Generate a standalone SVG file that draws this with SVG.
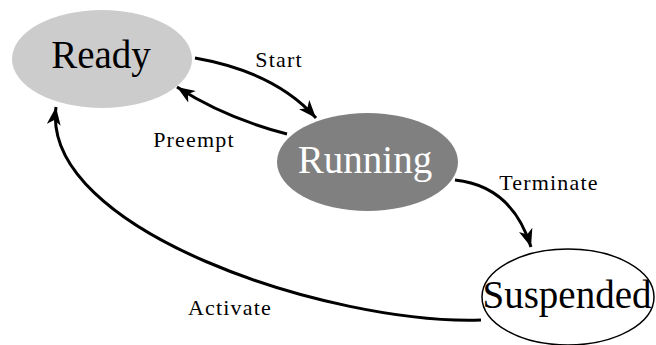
<svg xmlns="http://www.w3.org/2000/svg" width="656" height="345" viewBox="0 0 656 345">
<defs>
<marker id="arr" markerWidth="19" markerHeight="14" refX="18" refY="7" orient="auto" markerUnits="userSpaceOnUse">
<path d="M0,0 L18,7 L0,14 L5,7 z" fill="#000"/>
</marker>
<style>
.edge{fill:none;stroke:#000;stroke-width:3}
.lbl{font-family:"Liberation Serif","Times New Roman",serif;font-size:22px;letter-spacing:1.2px;fill:#000;text-anchor:middle}
.nt{font-family:"Liberation Serif","Times New Roman",serif;font-size:39px;text-anchor:middle}
</style>
</defs>
<rect width="656" height="345" fill="#fff"/>
<g id="connectors">
<path class="edge" d="M195,58 Q275,72 316,118" marker-end="url(#arr)"/>
<path class="edge" d="M287,134 Q225,118 177,87" marker-end="url(#arr)"/>
<path class="edge" d="M455,180 Q512,186 531,247" marker-end="url(#arr)"/>
<path class="edge" d="M481,320 C330,325 40,230 56,107" marker-end="url(#arr)"/>
<text class="lbl" x="279" y="67">Start</text>
<text class="lbl" x="194" y="147">Preempt</text>
<text class="lbl" x="549" y="190">Terminate</text>
<text class="lbl" x="230" y="315">Activate</text>
</g>
<g id="ready">
<ellipse cx="102" cy="59" rx="90" ry="49" fill="#cccccc"/>
<text class="nt" x="101" y="68" fill="#000">Ready</text>
</g>
<g id="running">
<ellipse cx="367.5" cy="162" rx="90.5" ry="49" fill="#808080"/>
<text class="nt" x="365" y="173" fill="#fff">Running</text>
</g>
<g id="suspended">
<ellipse cx="568" cy="297" rx="86" ry="48" fill="#fff" stroke="#000" stroke-width="1.5"/>
<text class="nt" x="567" y="308" fill="#000">Suspended</text>
</g>
</svg>
